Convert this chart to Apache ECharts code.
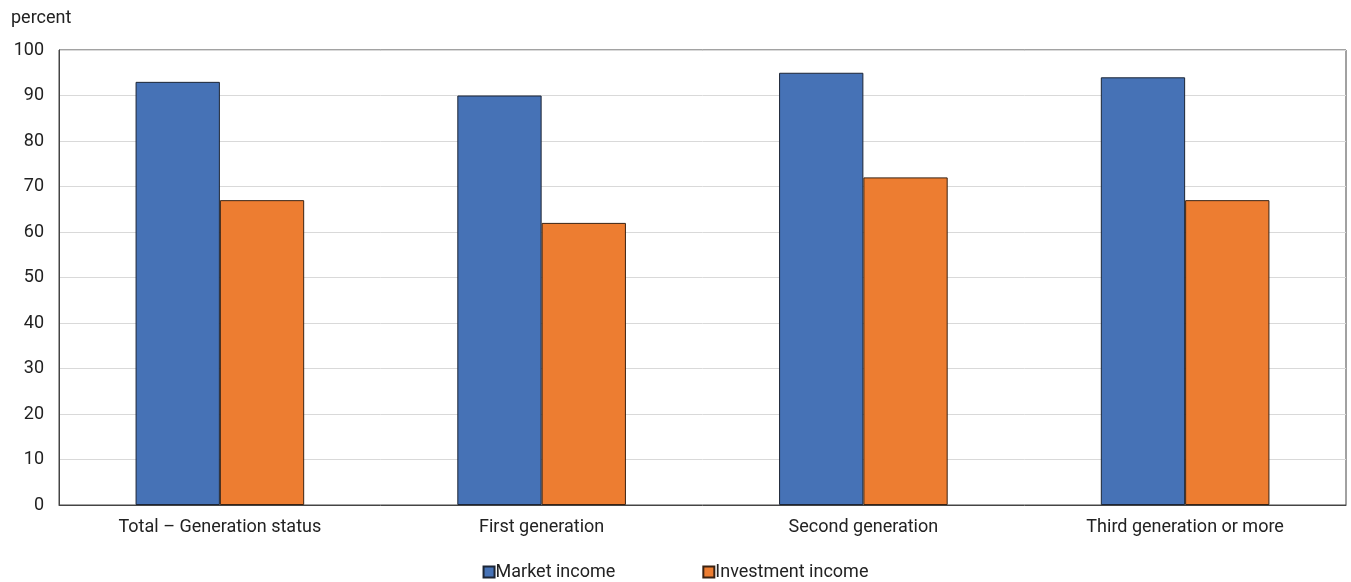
<!DOCTYPE html>
<html>
<head>
<meta charset="utf-8">
<script src="https://cdn.jsdelivr.net/npm/echarts@6/dist/echarts.min.js"></script>
<style>
  html, body { margin: 0; padding: 0; background: #fff; }
  #chart { width: 1351px; height: 582px; }
</style>
</head>
<body>
<div id="chart"></div>
<script>
// Share of people with market / investment income, by generation status
const categories = ['Total – Generation status', 'First generation', 'Second generation', 'Third generation or more'];
const marketIncome = [93, 90, 95, 94];
const investmentIncome = [67, 62, 72, 67];
const yTicks = [0, 10, 20, 30, 40, 50, 60, 70, 80, 90, 100];
const unitLabel = 'percent';

const FONT = '"Liberation Sans Narrow", "Roboto", "Liberation Sans", sans-serif';
const TEXT = '#222';

const chart = echarts.init(document.getElementById('chart'), null, { renderer: 'canvas' });

chart.setOption({
  animation: false,
  backgroundColor: '#fff',
  textStyle: { fontFamily: FONT, color: TEXT },
  graphic: [{
    type: 'text',
    left: 11,
    top: 9,
    style: { text: unitLabel, font: '18px ' + FONT, fill: TEXT }
  }],
  grid: {
    left: 59, right: 5, top: 50, bottom: 77,
    show: true, borderColor: '#444', borderWidth: 1, backgroundColor: 'transparent'
  },
  legend: {
    top: 558,
    left: 'center',
    itemGap: 87,
    itemWidth: 11,
    itemHeight: 11,
    icon: 'rect',
    textStyle: { fontFamily: FONT, fontSize: 18, color: TEXT, padding: [0, 0, 0, -4] },
    data: ['Market income', 'Investment income']
  },
  xAxis: {
    type: 'category',
    data: categories,
    axisLine: { show: true, lineStyle: { color: '#444', width: 1 } },
    axisTick: { show: false },
    axisLabel: { fontFamily: FONT, fontSize: 18, color: TEXT, margin: 13 },
    splitLine: { show: false }
  },
  yAxis: {
    type: 'value',
    min: yTicks[0],
    max: yTicks[yTicks.length - 1],
    interval: yTicks[1] - yTicks[0],
    axisLine: { show: true, lineStyle: { color: '#444', width: 1 } },
    axisTick: { show: false },
    axisLabel: { fontFamily: FONT, fontSize: 18, color: TEXT, margin: 15 },
    splitLine: { show: true, lineStyle: { color: '#d9d9d9', width: 1 } }
  },
  series: [
    {
      name: 'Market income',
      type: 'bar',
      data: marketIncome,
      barGap: '0%',
      barCategoryGap: '47.6%',
      itemStyle: { color: '#4672B6', borderColor: '#1c2535', borderWidth: 1 }
    },
    {
      name: 'Investment income',
      type: 'bar',
      data: investmentIncome,
      barGap: '0%',
      barCategoryGap: '47.6%',
      itemStyle: { color: '#ED7D31', borderColor: '#3a2212', borderWidth: 1 }
    }
  ]
});
</script>
</body>
</html>
